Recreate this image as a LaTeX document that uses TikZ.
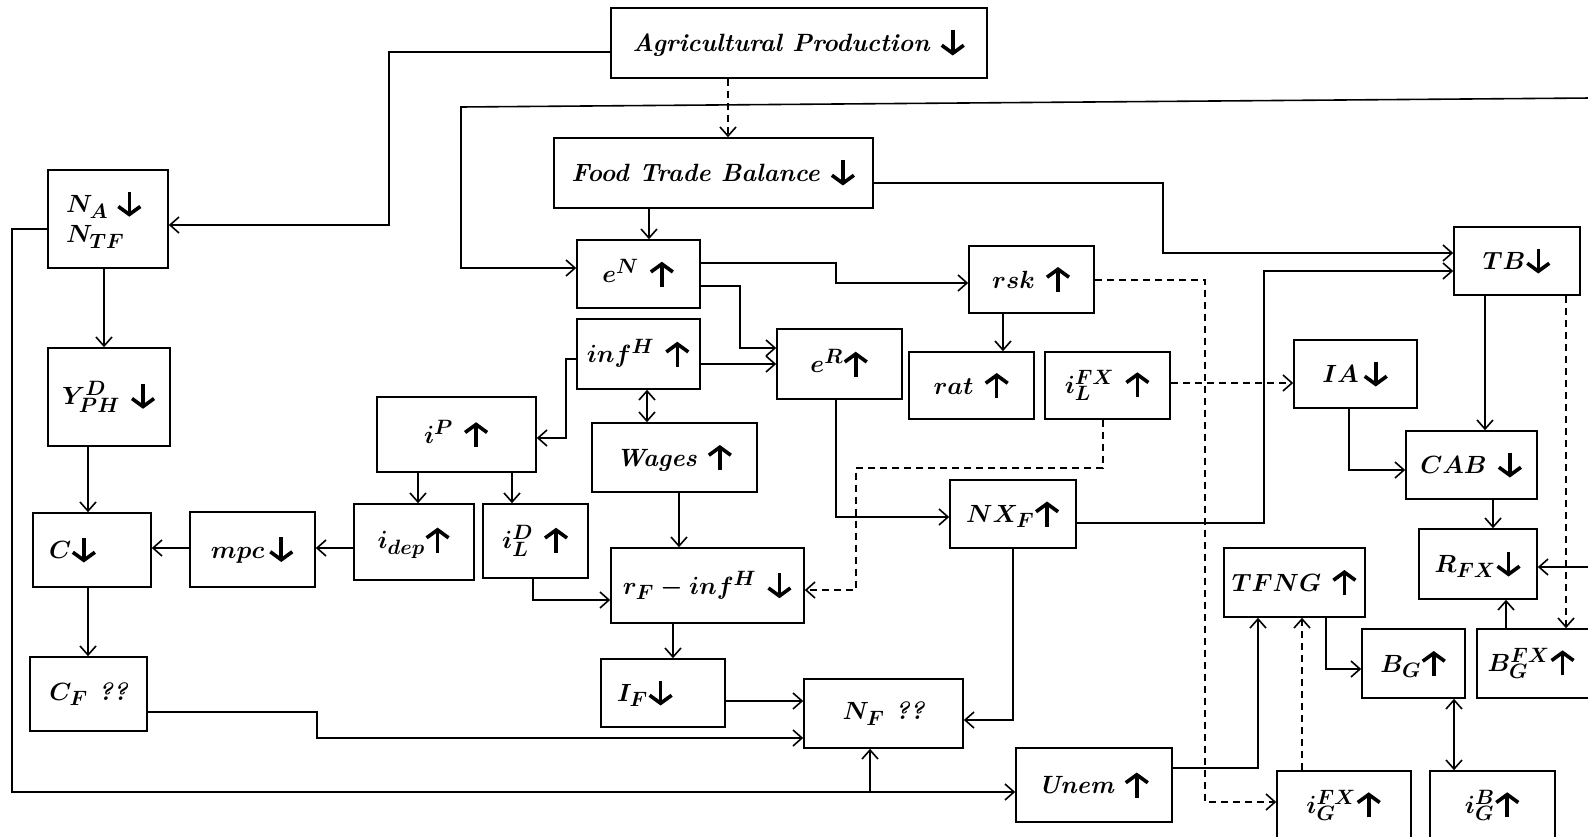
\documentclass[tikz,border=0pt]{standalone}
\usepackage{fontspec}
\usetikzlibrary{arrows.meta,calc}
\DeclareMathSizes{25}{25}{20}{16}
\newcommand\UA{\tikz[baseline=0pt]\draw[line width=3.6pt,-{Straight Barb[length=8pt,width=22pt]}] (0pt,-4pt) -- (0pt,21pt);}
\newcommand\DA{\tikz[baseline=0pt]\draw[line width=3.6pt,-{Straight Barb[length=8pt,width=22pt]}] (0pt,21pt) -- (0pt,-4pt);}
\begin{document}
\begin{tikzpicture}[x=1pt,y=-1pt,
  boxst/.style={draw, line width=1.6pt, inner sep=0pt, align=center,
    font=\fontsize{25}{30}\selectfont\boldmath\bfseries\itshape},
  conn/.style={line width=1.6pt},
  arr/.style={conn, -{Straight Barb[length=9pt,width=16pt]}},
  darr/.style={conn, {Straight Barb[length=9pt,width=16pt]}-{Straight Barb[length=9pt,width=16pt]}},
  dsh/.style={conn, dash pattern=on 7pt off 5pt, -{Straight Barb[length=9pt,width=16pt]}},
  dshl/.style={conn, dash pattern=on 7pt off 5pt}]
\useasboundingbox (0,0) rectangle (1588,837);
\clip (0,0) rectangle (1588,837);
\fill[white] (0,0) rectangle (1588,837);
% boxes
\node[boxst, minimum width=376pt, minimum height=70pt] (ap) at (799,43) {Agricultural Production \DA};
\node[boxst, minimum width=319pt, minimum height=70pt] (ftb) at (713.5,173) {Food Trade Balance \DA};
\node[boxst, minimum width=120pt, minimum height=98pt, text width=84pt, inner xsep=18pt, align=left] (na) at (108,219) {$N_A$ \DA\\[0pt]$N_{TF}$};
\node[boxst, minimum width=123pt, minimum height=68pt] (en) at (638.5,274) {$e^N$ \UA};
\node[boxst, minimum width=125pt, minimum height=67pt] (rsk) at (1031.5,279.5) {$rsk$ \UA};
\node[boxst, minimum width=126pt, minimum height=68pt] (tb) at (1517,261) {$TB$\DA};
\node[boxst, minimum width=123pt, minimum height=70pt] (infh) at (638.5,354) {$inf^H$ \UA};
\node[boxst, minimum width=125pt, minimum height=70pt] (er) at (839.5,364) {$e^R$\UA};
\node[boxst, minimum width=125pt, minimum height=67pt] (rat) at (971.5,385.5) {$rat$ \UA};
\node[boxst, minimum width=125pt, minimum height=67pt] (ilfx) at (1107.5,385.5) {$i_L^{FX}$ \UA};
\node[boxst, minimum width=123pt, minimum height=68pt] (ia) at (1355.5,374) {$IA$\,\DA};
\node[boxst, minimum width=122pt, minimum height=98pt] (yph) at (109,397) {$Y_{PH}^D$ \DA};
\node[boxst, minimum width=159pt, minimum height=75pt] (ip) at (456.5,434.5) {$i^P$ \UA};
\node[boxst, minimum width=165pt, minimum height=69pt] (wages) at (674.5,457.5) {Wages \UA};
\node[boxst, minimum width=131pt, minimum height=68pt] (cab) at (1471.5,465) {$CAB$ \DA};
\node[boxst, minimum width=126pt, minimum height=68pt] (nxf) at (1013,514) {$NX_F$\UA};
\node[boxst, minimum width=118pt, minimum height=74pt, text width=86pt, inner xsep=16pt, align=left] (c) at (92,550) {$C$\DA};
\node[boxst, minimum width=125pt, minimum height=75pt] (mpc) at (252.5,549.5) {$mpc$\,\DA};
\node[boxst, minimum width=120pt, minimum height=76pt] (idep) at (414,542) {$i_{dep}$\UA};
\node[boxst, minimum width=105pt, minimum height=74pt] (ild) at (535.5,541) {$i_L^D$ \UA};
\node[boxst, minimum width=193pt, minimum height=75pt] (rf) at (707.5,585.5) {$r_F - inf^H$ \DA};
\node[boxst, minimum width=118pt, minimum height=70pt] (rfx) at (1478,564) {$R_{FX}$\DA};
\node[boxst, minimum width=141pt, minimum height=69pt] (tfng) at (1294.5,582.5) {$TFNG$ \UA};
\node[boxst, minimum width=103pt, minimum height=69pt] (bg) at (1413.5,663.5) {$B_G$\UA};
\node[boxst, minimum width=123pt, minimum height=69pt] (bgfx) at (1538.5,663.5) {$B_G^{FX}$\UA\hspace*{14pt}};
\node[boxst, minimum width=117pt, minimum height=74pt] (cf) at (88.5,694) {$C_F$ ??};
\node[boxst, minimum width=124pt, minimum height=68pt, text width=92pt, inner xsep=16pt, align=left] (if) at (663,693) {$I_F$\DA};
\node[boxst, minimum width=159pt, minimum height=69pt] (nf) at (883.5,713.5) {$N_F$ ??};
\node[boxst, minimum width=156pt, minimum height=74pt] (unem) at (1094,785) {Unem \UA};
\node[boxst, minimum width=134pt, minimum height=69pt] (igfx) at (1344,805.5) {$i_G^{FX}$\UA};
\node[boxst, minimum width=125pt, minimum height=69pt] (igb) at (1492.5,805.5) {$i_G^B$\UA};
% free ends
\coordinate (topR) at (1592,98);
\coordinate (rfxR) at (1592,567);
% connectors
\draw[arr] (ap.west |- 0,52) -| (389,225) -- (na.east |- 0,225);
\draw[dsh] (728,0 |- ap.south) -- (728,0 |- ftb.north);
\draw[arr] (topR) -- (461,107) -- (461,268) -- (en.west |- 0,268);
\draw[arr] (649,0 |- ftb.south) -- (649,0 |- en.north);
\draw[arr] (ftb.east |- 0,183) -| (1163,253) -- (tb.west |- 0,253);
\draw[arr] (en.east |- 0,263) -| (836,283) -- (rsk.west |- 0,283);
\draw[arr] (en.east |- 0,286) -| (740,348) -- (er.west |- 0,348);
\draw[arr] (infh.east |- 0,364) -- (er.west |- 0,364);
\draw[arr] (infh.west |- 0,359) -| (566,438) -- (ip.east |- 0,438);
\draw[darr] (647,0 |- infh.south) -- (647,0 |- wages.north);
\draw[arr] (679,0 |- wages.south) -- (679,0 |- rf.north);
\draw[arr] (418,0 |- ip.south) -- (418,0 |- idep.north);
\draw[arr] (512,0 |- ip.south) -- (512,0 |- ild.north);
\draw[arr] (idep.west |- 0,548) -- (mpc.east |- 0,548);
\draw[arr] (mpc.west |- 0,548) -- (c.east |- 0,548);
\draw[arr] (104,0 |- na.south) -- (104,0 |- yph.north);
\draw[arr] (88,0 |- yph.south) -- (88,0 |- c.north);
\draw[arr] (88,0 |- c.south) -- (88,0 |- cf.north);
\draw[arr] (cf.east |- 0,712) -| (317,738) -- (nf.west |- 0,738);
\draw[arr] (533,0 |- ild.south) |- (rf.west |- 0,600);
\draw[arr] (673,0 |- rf.south) -- (673,0 |- if.north);
\draw[arr] (if.east |- 0,701) -- (nf.west |- 0,701);
\draw[arr] (836,0 |- er.south) |- (nxf.west |- 0,517);
\draw[arr] (1013,0 |- nxf.south) |- (nf.east |- 0,720);
\draw[arr] (nxf.east |- 0,523) -| (1264,271) -- (tb.west |- 0,271);
\draw[arr] (1003,0 |- rsk.south) -- (1003,0 |- rat.north);
\draw[dsh] (rsk.east |- 0,280) -| (1205,802) -- (igfx.west |- 0,802);
\draw[dsh] (ilfx.east |- 0,383) -- (ia.west |- 0,383);
\draw[dsh] (1103,0 |- ilfx.south) |- (856,468) |- (rf.east |- 0,590);
\draw[arr] (1349,0 |- ia.south) |- (cab.west |- 0,470);
\draw[arr] (1485,0 |- tb.south) -- (1485,0 |- cab.north);
\draw[dsh] (1566,0 |- tb.south) -- (1566,0 |- bgfx.north);
\draw[arr] (1493,0 |- cab.south) -- (1493,0 |- rfx.north);
\draw[arr] (rfxR) -- (rfx.east |- 0,567);
\draw[arr] (1506,0 |- bgfx.north) -- (1506,0 |- rfx.south);
\draw[arr] (na.west |- 0,229) -| (12,792) -- (unem.west |- 0,792);
\draw[arr] (870,792) -- (870,0 |- nf.south);
\draw[arr] (unem.east |- 0,768) -| (1258,0 |- tfng.south);
\draw[dsh] (1302,0 |- igfx.north) -- (1302,0 |- tfng.south);
\draw[arr] (1326,0 |- tfng.south) |- (bg.west |- 0,669);
\draw[darr] (1454,0 |- bg.south) -- (1454,0 |- igb.north);
\end{tikzpicture}
\end{document}
